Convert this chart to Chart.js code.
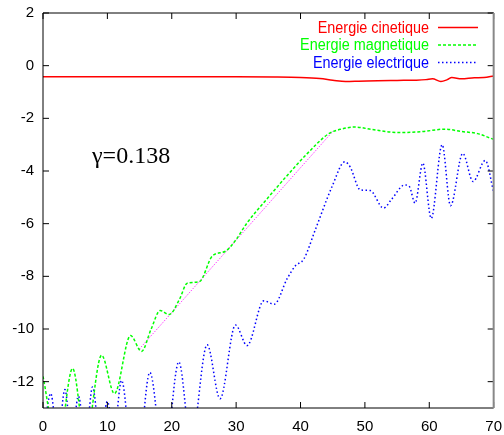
<!DOCTYPE html>
<html>
<head>
<meta charset="utf-8">
<script src="https://cdn.jsdelivr.net/npm/chart.js@4.4.1/dist/chart.umd.min.js"></script>
<style>
html, body { margin: 0; padding: 0; background: #fff; }
#energyChart { display: block; }
</style>
</head>
<body>
<canvas id="energyChart" width="504" height="435"></canvas>
<script>
// ticks
const xTicks = [0, 10, 20, 30, 40, 50, 60, 70];
const yTicks = [-12, -10, -8, -6, -4, -2, 0, 2];

// Energie cinetique
const tKin = [0, 10, 20, 30, 36, 40, 43, 45, 47, 49, 52, 55, 58, 59.5, 60.5, 61.8, 62.8, 63.5, 65, 67, 68.5, 70];
const eKin = [-0.42, -0.42, -0.42, -0.42, -0.43, -0.45, -0.49, -0.55, -0.6, -0.59, -0.57, -0.56, -0.55, -0.53, -0.5, -0.6, -0.53, -0.45, -0.5, -0.46, -0.45, -0.39];

// Energie magnetique
const tMag = [0, 2.3, 4.6, 6.6, 9.1, 11.1, 13.6, 15.3, 16.8, 18.2, 19.6, 21.2, 22.4, 24.3, 26.3, 28.4, 30.0, 31.7, 35, 38, 41, 44.4, 46.5, 48.5, 51, 55.2, 59, 62.4, 65, 67.5, 70];
const eMag = [-11.8, -14.5, -11.5, -14.2, -11.0, -12.45, -10.25, -10.85, -10.0, -9.3, -9.45, -8.87, -8.26, -8.2, -7.23, -7.04, -6.6, -5.97, -5.0, -4.15, -3.35, -2.58, -2.4, -2.33, -2.42, -2.54, -2.5, -2.41, -2.5, -2.58, -2.8];

// Energie electrique
const tElec = [0, 1.2, 2.3, 3.4, 4.45, 5.5, 6.6, 7.7, 8.9, 10.0, 11.0, 12.2, 14.3, 16.6, 18.8, 21.1, 23.0, 25.5, 27.5, 29.9, 31.7, 34.3, 35.9, 37.9, 39.2, 40.5, 42.3, 44.9, 46.9, 47.7, 49.3, 50.8, 52.9, 54.1, 56.2, 56.9, 57.8, 59.0, 60.3, 62.0, 63.3, 65.2, 66.8, 68.7, 70];
const eElec = [-14.2, -12.45, -14.2, -12.3, -14.2, -12.55, -14.2, -12.2, -14.2, -12.75, -14.0, -11.95, -16.1, -11.65, -15.1, -11.25, -14.3, -10.6, -12.65, -9.85, -10.63, -8.93, -9.06, -8.1, -7.6, -7.35, -6.23, -4.59, -3.65, -3.84, -4.72, -4.74, -5.41, -5.09, -4.53, -4.59, -5.22, -3.7, -5.8, -3.0, -5.32, -3.33, -4.4, -3.6, -4.8];

// fit, gamma = 0.138
const tFit = [15, 45];
const eFit = [-10.75, -2.5];
const gammaText = "\u03b3=0.138";

function pts(t, v) {
    return t.map((x, i) => ({ x: x, y: v[i] }));
}

const legendBox = {
    id: "legendBox",
    afterDraw(chart) {
        const ctx = chart.ctx;
        chart.data.datasets.forEach((ds, i) => {
            if (!ds.label) return;
            const y = 27.5 + i * 17.5;
            ctx.save();
            ctx.font = '16px "Liberation Sans", Arial, sans-serif';
            ctx.fillStyle = ds.borderColor;
            ctx.textAlign = "right";
            ctx.textBaseline = "alphabetic";
            ctx.translate(429, y + 5);
            ctx.scale(0.9, 1);
            ctx.fillText(ds.label, 0, 0);
            ctx.restore();

            ctx.save();
            ctx.strokeStyle = ds.borderColor;
            ctx.lineWidth = ds.borderWidth;
            ctx.setLineDash(ds.borderDash || []);
            ctx.beginPath();
            ctx.moveTo(438, y);
            ctx.lineTo(478, y);
            ctx.stroke();
            ctx.restore();
        });
    }
};

const frame = {
    id: "frame",
    afterDatasetsDraw(chart) {
        const ctx = chart.ctx;
        const a = chart.chartArea;
        const xs = chart.scales.x;
        const ys = chart.scales.y;
        ctx.save();
        ctx.strokeStyle = "#000";
        ctx.lineWidth = 1;
        ctx.beginPath();
        ctx.moveTo(a.left, a.top);
        ctx.lineTo(a.right, a.top);
        ctx.moveTo(a.left, a.top);
        ctx.lineTo(a.left, a.bottom);
        ctx.lineTo(a.right, a.bottom);
        xTicks.forEach(v => {
            const px = xs.getPixelForValue(v);
            ctx.moveTo(px, a.bottom);
            ctx.lineTo(px, a.bottom - 6);
            ctx.moveTo(px, a.top);
            ctx.lineTo(px, a.top + 6);
        });
        yTicks.forEach(v => {
            const py = ys.getPixelForValue(v);
            ctx.moveTo(a.left, py);
            ctx.lineTo(a.left + 6, py);
            ctx.moveTo(a.right, py);
            ctx.lineTo(a.right - 6, py);
        });
        ctx.stroke();
        ctx.strokeStyle = "#888";
        ctx.lineWidth = 2;
        ctx.beginPath();
        ctx.moveTo(a.right, a.top);
        ctx.lineTo(a.right, a.bottom);
        ctx.stroke();

        ctx.fillStyle = "#000";
        ctx.font = '24px "Liberation Serif", "Times New Roman", serif';
        ctx.textBaseline = "alphabetic";
        ctx.textAlign = "left";
        ctx.fillText(gammaText, 92, 163);
        ctx.restore();
    }
};

new Chart(document.getElementById("energyChart").getContext("2d"), {
    type: "line",
    data: {
        datasets: [
            {
                label: "Energie cinetique",
                data: pts(tKin, eKin),
                borderColor: "#ff0000",
                borderWidth: 1.5
            },
            {
                label: "Energie magnetique",
                data: pts(tMag, eMag),
                borderColor: "#00ff00",
                borderWidth: 1.5,
                borderDash: [3, 2]
            },
            {
                label: "Energie electrique",
                data: pts(tElec, eElec),
                borderColor: "#0000ff",
                borderWidth: 1.5,
                borderDash: [1.5, 2.5]
            },
            {
                label: "",
                data: pts(tFit, eFit),
                borderColor: "#ff00ff",
                borderWidth: 1,
                borderDash: [1, 1.5]
            }
        ]
    },
    options: {
        responsive: false,
        animation: false,
        events: [],
        elements: {
            point: { radius: 0 },
            line: { cubicInterpolationMode: "monotone", fill: false }
        },
        layout: { autoPadding: false, padding: { top: 13, right: 5.7, left: 0, bottom: 0 } },
        plugins: {
            legend: { display: false },
            tooltip: { enabled: false }
        },
        scales: {
            x: {
                type: "linear",
                min: 0,
                max: 70,
                afterBuildTicks: s => { s.ticks = xTicks.map(v => ({ value: v })); },
                afterFit: s => { s.height = 27; },
                grid: { display: false },
                border: { display: false },
                ticks: {
                    padding: 2,
                    color: "#000",
                    maxRotation: 0,
                    font: { family: '"Liberation Sans", Arial, sans-serif', size: 15 }
                }
            },
            y: {
                type: "linear",
                min: -13,
                max: 2,
                afterBuildTicks: s => { s.ticks = yTicks.map(v => ({ value: v })); },
                afterFit: s => { s.width = 43; },
                grid: { display: false },
                border: { display: false },
                ticks: {
                    padding: 1,
                    color: "#000",
                    font: { family: '"Liberation Sans", Arial, sans-serif', size: 15 }
                }
            }
        }
    },
    plugins: [legendBox, frame]
});
</script>
</body>
</html>
